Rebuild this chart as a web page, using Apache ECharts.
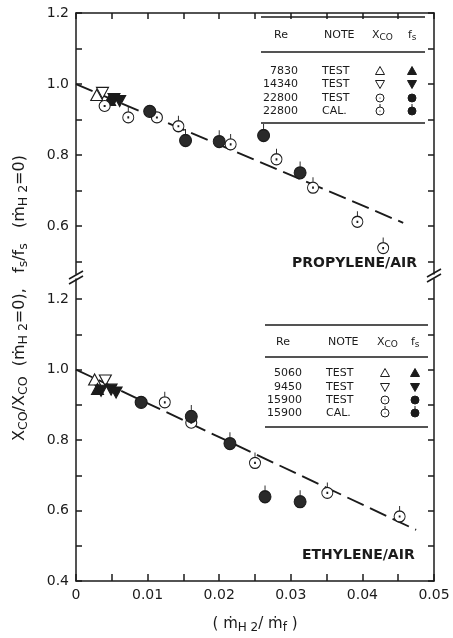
<!DOCTYPE html>
<html style="height: 100%">
<head>
	<meta charset="utf-8">
</head>
<body style="height: 100%; margin: 0; background: #fff">
	<div id="container" style="width: 453px; height: 638px"></div>
	<script type="text/javascript" src="https://cdn.jsdelivr.net/npm/echarts@6/dist/echarts.min.js"></script>
	<script type="text/javascript">
		// ---- data: propylene/air (upper panel) ----
		var propCoTriUp = [[0.0029, 0.969]];          // Re 7830, X_CO
		var propCoTriDown = [[0.0037, 0.975]];        // Re 14340, X_CO
		var propFsTriUp = [[0.0047, 0.955]];          // Re 7830, fs
		var propFsTriDown = [[0.0053, 0.958], [0.0061, 0.952]];
		var propCoTest = [[0.0040, 0.938], [0.0113, 0.906]];
		var propCoCal = [[0.0073, 0.906], [0.0143, 0.881], [0.0216, 0.830], [0.0280, 0.788],
			[0.0331, 0.708], [0.0393, 0.612], [0.0429, 0.538]];
		var propFsTest = [[0.0103, 0.923]];
		var propFsCal = [[0.0153, 0.841], [0.0200, 0.838], [0.0262, 0.855], [0.0313, 0.750]];
		var propFit = [[0, 1.0], [0.0457, 0.609]];

		// ---- data: ethylene/air (lower panel) ----
		var ethCoTriUp = [[0.0026, 0.972]];           // Re 5060
		var ethCoTriDown = [[0.0041, 0.969]];         // Re 9450
		var ethFsTriUp = [[0.0030, 0.945]];
		var ethFsTriDown = [[0.0035, 0.940], [0.0049, 0.943], [0.0056, 0.935]];
		var ethCoTest = [[0.0161, 0.849]];
		var ethCoCal = [[0.0124, 0.907], [0.0250, 0.735], [0.0351, 0.650], [0.0452, 0.583]];
		var ethFsTest = [[0.0091, 0.907]];
		var ethFsCal = [[0.0161, 0.867], [0.0215, 0.790], [0.0264, 0.639], [0.0313, 0.625]];
		var ethFit = [[0, 1.0], [0.0475, 0.545]];

		// ---- legend tables ----
		var propRe = ['7830', '14340', '22800', '22800'];
		var ethRe = ['5060', '9450', '15900', '15900'];
		var notes = ['TEST', 'TEST', 'TEST', 'CAL.'];

		// ---- ticks ----
		var xTicks = [0, 0.005, 0.01, 0.015, 0.02, 0.025, 0.03, 0.035, 0.04, 0.045, 0.05];
		var xLabels = [0, 0.01, 0.02, 0.03, 0.04, 0.05];
		var yTicksTop = [0.5, 0.6, 0.7, 0.8, 0.9, 1.0, 1.1, 1.2];
		var yLabelsTop = [0.6, 0.8, 1.0, 1.2];
		var yTicksBot = [0.4, 0.5, 0.6, 0.7, 0.8, 0.9, 1.0, 1.1, 1.2];
		var yLabelsBot = [0.4, 0.6, 0.8, 1.0, 1.2];

		var INK = '#1b1b1b';
		var FONT = 'DejaVu Sans';

		var TRI_UP = 'M0,-10L10,8L-10,8Z';
		var TRI_DN = 'M0,10L10,-8L-10,-8Z';
		var CIRCLE = 'M0,-10C5.523,-10,10,-5.523,10,0C10,5.523,5.523,10,0,10C-5.523,10,-10,5.523,-10,0C-10,-5.523,-5.523,-10,0,-10Z';
		var DOT = 'M-0.8,-0.8L0.8,-0.8L0.8,0.8L-0.8,0.8Z';
		var STEM = 'M0,-10L0,-19';

		var dom = document.getElementById('container');
		var myChart = echarts.init(dom);

		// symbol box follows the path's own proportions (20 wide, 29 tall with stem)
		function marks(data, gi, path, size, fill, offset) {
			return {
				type: 'scatter',
				xAxisIndex: gi,
				yAxisIndex: gi * 2,
				data: data,
				symbol: 'path://' + path,
				symbolSize: size,
				symbolOffset: offset || [0, 0],
				itemStyle: { color: fill, borderColor: INK, borderWidth: 1.1, opacity: 1 },
				z: 3,
				silent: true
			};
		}

		function panel(gi, d) {
			return [
				{
					type: 'line', xAxisIndex: gi, yAxisIndex: gi * 2, data: d.fit,
					showSymbol: false, silent: true, z: 2,
					lineStyle: { color: INK, width: 1.9, type: [18, 7] }
				},
				marks(d.coUp, gi, TRI_UP, [12, 11], '#fff'),
				marks(d.coDn, gi, TRI_DN, [12, 11], '#fff'),
				marks(d.fsUp, gi, TRI_UP, [12, 11], INK),
				marks(d.fsDn, gi, TRI_DN, [12, 11], INK),
				marks(d.coTest, gi, CIRCLE + DOT, 11, '#fff'),
				marks(d.coCal, gi, CIRCLE + DOT + STEM, [11, 16], '#fff', [0, -2.5]),
				marks(d.fsTest, gi, CIRCLE, 12, '#2a2a2a'),
				marks(d.fsCal, gi, CIRCLE + STEM, [12, 17.4], '#2a2a2a', [0, -2.7])
			];
		}

		function yAx(gi, pos, min, max, ticks, labels) {
			return {
				type: 'value', gridIndex: gi, position: pos, min: min, max: max,
				axisLine: { show: true, lineStyle: { color: INK, width: 1.5 } },
				axisTick: { show: true, inside: true, length: 6, customValues: ticks, lineStyle: { color: INK, width: 1.5 } },
				axisLabel: {
					show: pos === 'left', customValues: labels, margin: 7,
					color: INK, fontFamily: FONT, fontSize: 14,
					formatter: function (v) { return v.toFixed(1); }
				},
				splitLine: { show: false }
			};
		}

		// small legend symbols drawn with basic graphic shapes
		function legendSymbol(kind, cx, cy, filled) {
			var fill = filled ? INK : '#fff';
			var st = { fill: fill, stroke: INK, lineWidth: 1 };
			if (kind === 'up') {
				return [{ type: 'polygon', shape: { points: [[cx, cy - 4.5], [cx + 4.5, cy + 3.5], [cx - 4.5, cy + 3.5]] }, style: st }];
			}
			if (kind === 'down') {
				return [{ type: 'polygon', shape: { points: [[cx, cy + 4.5], [cx + 4.5, cy - 3.5], [cx - 4.5, cy - 3.5]] }, style: st }];
			}
			var out = [{ type: 'circle', shape: { cx: cx, cy: cy, r: 4 }, style: st }];
			if (!filled) out.push({ type: 'circle', shape: { cx: cx, cy: cy, r: 0.6 }, style: { fill: INK } });
			if (kind === 'cal') out.push({ type: 'line', shape: { x1: cx, y1: cy - 4, x2: cx, y2: cy - 7 }, style: { stroke: INK, lineWidth: 1 } });
			return out;
		}

		function tableGraphics(t) {
			var els = [];
			t.lines.forEach(function (y) {
				els.push({ type: 'line', shape: { x1: t.x0, y1: y, x2: t.x1, y2: y }, style: { stroke: INK, lineWidth: 1.3 } });
			});
			var txt = function (x, y, s, align) {
				return {
					type: 'text', x: x, y: y,
					style: { text: s, font: '11px ' + FONT, fill: INK, textAlign: align || 'left', textVerticalAlign: 'middle' }
				};
			};
			var rich = {
				n: { fontSize: 11, fontFamily: FONT, fill: INK, color: INK, lineHeight: 14, verticalAlign: 'middle' },
				s: { fontSize: 9, fontFamily: FONT, fill: INK, color: INK, lineHeight: 9, verticalAlign: 'bottom' }
			};
			els.push(txt(t.reHead, t.head, 'Re', 'center'));
			els.push(txt(t.noteX + 2, t.head, 'NOTE'));
			els.push({
				type: 'text', x: t.coX - 8, y: t.head,
				style: { text: '{n|X}{s|CO}', rich: rich, fill: INK, textVerticalAlign: 'middle' }
			});
			els.push({
				type: 'text', x: t.fsX - 4, y: t.head,
				style: { text: '{n|f}{s|s}', rich: rich, fill: INK, textVerticalAlign: 'middle' }
			});
			var kinds = ['up', 'down', 'test', 'cal'];
			t.rows.forEach(function (y, i) {
				els.push(txt(t.reX, y, t.re[i], 'right'));
				els.push(txt(t.noteX, y, notes[i]));
				els = els.concat(legendSymbol(kinds[i], t.coX, y, false));
				els = els.concat(legendSymbol(kinds[i], t.fsX, y, true));
			});
			return els;
		}

		var breakMarks = [
			[69, 279, 83, 271], [69, 284, 83, 276],
			[427, 277, 441, 269], [427, 282, 441, 274]
		].map(function (s) {
			return { type: 'line', shape: { x1: s[0], y1: s[1], x2: s[2], y2: s[3] }, style: { stroke: INK, lineWidth: 1.6 } };
		});

		var subRich = {
			n: { fontSize: 15, fontFamily: FONT, fill: INK, color: INK, lineHeight: 20, verticalAlign: 'middle' },
			s: { fontSize: 12, fontFamily: FONT, fill: INK, color: INK, lineHeight: 12, verticalAlign: 'bottom' }
		};
		var yRich = {
			n: { fontSize: 16, fontFamily: FONT, fill: INK, color: INK, lineHeight: 21, verticalAlign: 'middle' },
			s: { fontSize: 12.5, fontFamily: FONT, fill: INK, color: INK, lineHeight: 12, verticalAlign: 'bottom' }
		};

		option = {
			backgroundColor: '#fff',
			animation: false,
			grid: [
				{ left: 76, right: 19, top: 13, height: 261 },
				{ left: 76, right: 19, top: 279, height: 302 }
			],
			xAxis: [
				{
					type: 'value', gridIndex: 0, position: 'top', min: 0, max: 0.05,
					axisLine: { show: true, lineStyle: { color: INK, width: 1.5 } },
					axisTick: { show: true, inside: true, length: 6, customValues: xTicks, lineStyle: { color: INK, width: 1.5 } },
					axisLabel: { show: false },
					splitLine: { show: false }
				},
				{
					type: 'value', gridIndex: 1, position: 'bottom', min: 0, max: 0.05,
					axisLine: { show: true, lineStyle: { color: INK, width: 1.5 } },
					axisTick: { show: true, inside: true, length: 7, customValues: xTicks, lineStyle: { color: INK, width: 1.5 } },
					axisLabel: {
						customValues: xLabels, margin: 7, color: INK, fontFamily: FONT, fontSize: 14,
						formatter: function (v) { return v === 0 ? '0' : v.toFixed(2); }
					},
					splitLine: { show: false },
					name: '{n|( ṁ}{s|H 2}{n|/ ṁ}{s|f}{n| )}',
					nameLocation: 'middle',
					nameGap: 33,
					nameTextStyle: { rich: subRich }
				}
			],
			yAxis: [
				yAx(0, 'left', 0.465, 1.2, yTicksTop, yLabelsTop),
				yAx(0, 'right', 0.465, 1.2, yTicksTop, yLabelsTop),
				yAx(1, 'left', 0.4, 1.257, yTicksBot, yLabelsBot),
				yAx(1, 'right', 0.4, 1.257, yTicksBot, yLabelsBot)
			],
			graphic: [].concat(
				breakMarks,
				tableGraphics({
					x0: 261, x1: 425, lines: [17, 52, 123], head: 35, rows: [71, 84, 98, 111],
					reHead: 281, reX: 298, noteX: 322, coX: 380, fsX: 412, re: propRe
				}),
				tableGraphics({
					x0: 265, x1: 428, lines: [325, 357, 427], head: 342, rows: [373, 387, 400, 413],
					reHead: 283, reX: 302, noteX: 326, coX: 385, fsX: 415, re: ethRe
				}),
				[
					{
						type: 'text', x: 292, y: 263,
						style: { text: 'PROPYLENE/AIR', font: 'bold 14px ' + FONT, fill: INK, textVerticalAlign: 'middle' }
					},
					{
						type: 'text', x: 302, y: 555,
						style: { text: 'ETHYLENE/AIR', font: 'bold 14px ' + FONT, fill: INK, textVerticalAlign: 'middle' }
					},
					{
						type: 'text', x: 20, y: 298, rotation: Math.PI / 2,
						style: {
							text: '{n|X}{s|CO}{n|/X}{s|CO}{n|  (ṁ}{s|H 2}{n|=0),   f}{s|s}{n|/f}{s|s}{n|   (ṁ}{s|H 2}{n|=0)}',
							rich: yRich, fill: INK, textAlign: 'center', textVerticalAlign: 'middle'
						}
					}
				]
			),
			series: [].concat(
				panel(0, {
					fit: propFit, coUp: propCoTriUp, coDn: propCoTriDown, fsUp: propFsTriUp, fsDn: propFsTriDown,
					coTest: propCoTest, coCal: propCoCal, fsTest: propFsTest, fsCal: propFsCal
				}),
				panel(1, {
					fit: ethFit, coUp: ethCoTriUp, coDn: ethCoTriDown, fsUp: ethFsTriUp, fsDn: ethFsTriDown,
					coTest: ethCoTest, coCal: ethCoCal, fsTest: ethFsTest, fsCal: ethFsCal
				})
			)
		};

		myChart.setOption(option);
	</script>
</body>
</html>
